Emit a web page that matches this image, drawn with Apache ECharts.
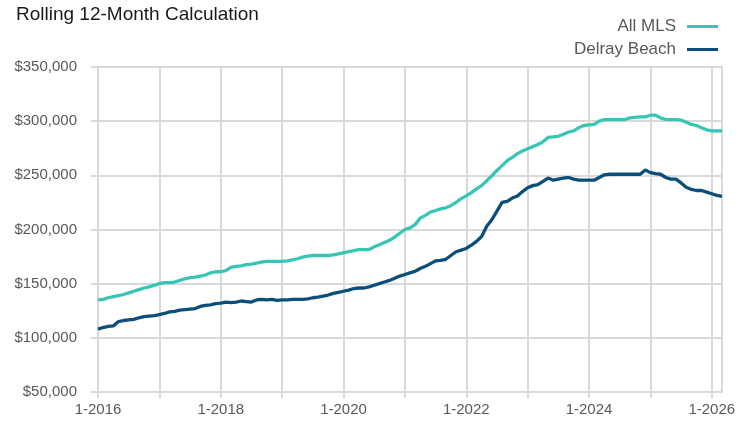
<!DOCTYPE html>
<html>
<head>
<meta charset="utf-8">
<script src="https://cdn.jsdelivr.net/npm/echarts@6/dist/echarts.min.js"></script>
<style>
  html, body { margin: 0; padding: 0; background: #fff; }
  #main { width: 750px; height: 427px; }
</style>
</head>
<body>
<div id="main"></div>
<script>
// months 1-2016 .. 3-2026
let months = [];
for (let y = 2016; y <= 2026; y++) {
    for (let m = 1; m <= 12; m++) {
        if (y === 2026 && m > 3) break;
        months.push(m + '-' + y);
    }
}

// All MLS, rolling 12-month
let all_mls = [
    135000, 135500, 137000, 138000, 139000, 140000, 141500, 143000, 144500, 146000, 147000, 148500,
    150000, 151000, 151000, 151500, 153000, 154500, 155500, 156000, 157000, 158000, 160000, 161000,
    161000, 162000, 165000, 166000, 166500, 167500, 168000, 169000, 170000, 170500, 170500, 170500,
    170500, 171000, 172000, 173000, 174500, 175500, 176000, 176000, 176000, 176000, 176500, 177500,
    178500, 179500, 180500, 181500, 181500, 181500, 184000, 186000, 188000, 190000, 193000, 196500,
    200000, 201500, 204500, 210500, 213000, 216000, 217500, 219000, 220000, 222000, 225000, 228500,
    231000, 234000, 237500, 240500, 245000, 249500, 254500, 259000, 263500, 266500, 270000, 272500,
    274500, 276500, 278500, 281000, 285000, 285500, 286000, 288000, 290000, 291000, 294000, 296000,
    296500, 297000, 300000, 301500, 301500, 301500, 301500, 301500, 303000, 303500, 304000, 304000,
    305500, 305500, 303000, 301500, 301500, 301500, 301000, 299000, 297000, 296000, 294000, 292000,
    291000, 291000, 291000
];

// Delray Beach, rolling 12-month
let delray = [
    108000, 109500, 110500, 111000, 115000, 116000, 116500, 117000, 118500, 119500, 120000, 120500,
    121500, 122500, 124000, 124500, 125500, 126000, 126500, 127000, 129000, 130000, 130500, 131500,
    132000, 133000, 132500, 133000, 134000, 133500, 133000, 135000, 135500, 135000, 135500, 134500,
    135000, 135000, 135500, 135500, 135500, 136000, 137000, 137500, 138500, 139500, 141000, 142000,
    143000, 144000, 145500, 146000, 146000, 147000, 148500, 150000, 151500, 153000, 155000, 157000,
    158500, 160000, 161500, 164000, 166000, 168500, 171000, 171500, 172500, 176000, 179500, 181000,
    182500, 185500, 189000, 193500, 203000, 209000, 217000, 225000, 226000, 229000, 231000, 235000,
    238500, 240500, 241500, 244500, 247500, 245500, 246500, 247500, 248000, 246500, 245500, 245500,
    245500, 245500, 248000, 250500, 251000, 251000, 251000, 251000, 251000, 251000, 251000, 255000,
    252500, 251500, 251000, 248000, 246500, 246500, 243000, 239000, 237000, 236000, 236000, 234500,
    233000, 231500, 230500
];

let font = '"Liberation Sans", Arial, sans-serif';
let grid_color = '#d9d9d9';

let chart = echarts.init(document.getElementById('main'), null, {renderer: 'canvas'});

let option = {
    animation: false,
    backgroundColor: '#fff',
    title: {
        text: 'Rolling 12-Month Calculation',
        left: 11,
        top: 0,
        textStyle: {
            fontFamily: font,
            fontSize: 19,
            fontWeight: 'normal',
            color: '#1a1a1a'
        }
    },
    legend: {
        orient: 'vertical',
        right: 27,
        top: 13,
        align: 'right',
        icon: 'rect',
        itemWidth: 31,
        itemHeight: 3,
        itemGap: 6,
        textStyle: {
            fontFamily: font,
            fontSize: 17,
            color: '#595959',
            padding: [0, 6, 0, 0]
        },
        data: ['All MLS', 'Delray Beach']
    },
    grid: {
        left: 98,
        right: 28,
        top: 67,
        bottom: 35,
        show: true,
        borderColor: grid_color,
        borderWidth: 2,
        outerBoundsMode: 'none'
    },
    xAxis: {
        type: 'category',
        boundaryGap: false,
        data: months,
        axisLine: {lineStyle: {color: grid_color, width: 2}},
        axisTick: {
            length: 6,
            interval: function (i) { return i % 12 === 0; },
            lineStyle: {color: grid_color, width: 2}
        },
        splitLine: {
            show: true,
            interval: function (i) { return i % 12 === 0; },
            lineStyle: {color: grid_color, width: 2}
        },
        axisLabel: {
            interval: function (i) { return i % 24 === 0; },
            margin: 10,
            fontFamily: font,
            fontSize: 15,
            color: '#595959'
        }
    },
    yAxis: {
        type: 'value',
        min: 50000,
        max: 350000,
        interval: 50000,
        axisLine: {show: true, lineStyle: {color: grid_color, width: 2}},
        axisTick: {show: true, length: 7, lineStyle: {color: grid_color, width: 2}},
        splitLine: {lineStyle: {color: grid_color, width: 2}},
        axisLabel: {
            margin: 21,
            fontFamily: font,
            fontSize: 15,
            color: '#595959',
            formatter: function (v) { return '$' + v.toLocaleString('en-US'); }
        }
    },
    series: [
        {
            name: 'All MLS',
            type: 'line',
            data: all_mls,
            showSymbol: false,
            color: '#38c6b4',
            lineStyle: {width: 3.3, color: '#38c6b4'}
        },
        {
            name: 'Delray Beach',
            type: 'line',
            data: delray,
            showSymbol: false,
            color: '#0c4e7a',
            lineStyle: {width: 3.3, color: '#0c4e7a'}
        }
    ]
};

chart.setOption(option);
</script>
</body>
</html>
